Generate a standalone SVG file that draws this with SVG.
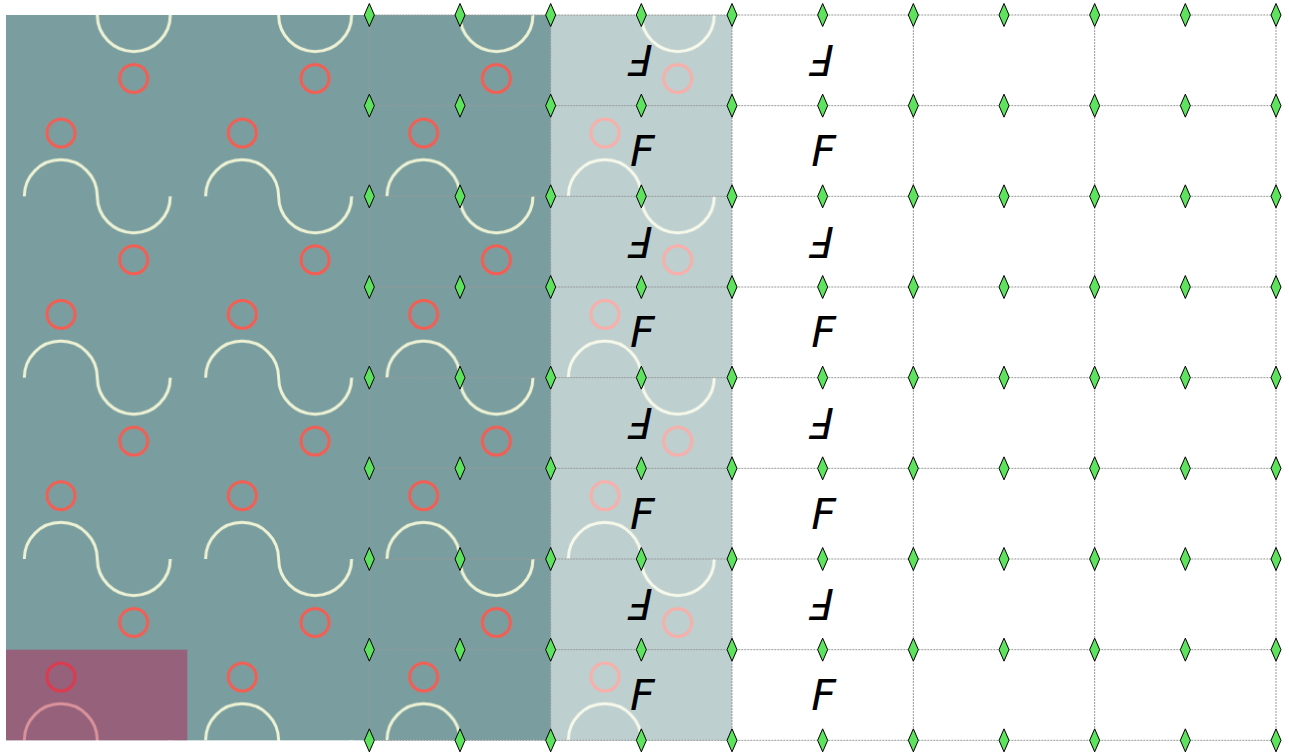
<svg xmlns="http://www.w3.org/2000/svg" width="1289" height="754" viewBox="0 0 1289 754">
<style>
.grid{fill:none;stroke:#999;stroke-width:1;stroke-dasharray:2 1}
.row{marker-start:url(#dia);marker-mid:url(#dia);marker-end:url(#dia)}
.f{font-family:"DejaVu Sans",sans-serif;font-style:oblique;font-size:43px;fill:#000}
</style>
<defs>
<pattern id="tile" patternUnits="userSpaceOnUse" x="6" y="15" width="181.333" height="181.333">
<rect width="181.333" height="181.333" fill="#7a9e9f"/>
<path d="M91.3,0 A36.5,36.5 0 0 0 164.3,0 M18.3,181.333 A36.5,36.5 0 0 1 91.3,181.333" fill="none" stroke="#eef2d4" stroke-width="3"/>
<circle cx="127.7" cy="63.5" r="14" fill="none" stroke="#f65c51" stroke-width="3"/>
<circle cx="55" cy="118" r="14" fill="none" stroke="#f65c51" stroke-width="3"/>
</pattern>
<marker id="dia" markerUnits="userSpaceOnUse" viewBox="-7 -13 14 26" markerWidth="14" markerHeight="26" refX="0" refY="0" orient="0" overflow="visible">
<path d="M0,-11.5 L5,0 L0,11.5 L-5,0 Z" fill="#5de35d" stroke="#000" stroke-width="1" stroke-dasharray="none"/>
</marker>
</defs>
<g id="background">
<rect x="6" y="15" width="726" height="725.333" fill="url(#tile)"/>
<rect x="550.667" y="15" width="181.333" height="725.333" fill="#fff" fill-opacity="0.5"/>
<rect x="6" y="649.667" width="181.333" height="90.667" fill="rgb(190,5,70)" fill-opacity="0.4"/>
</g>
<g id="letters">
<text class="f" x="630" y="166">F</text>
<text class="f" x="630" y="166" transform="rotate(180 641.333 105.667)">F</text>
<text class="f" x="630" y="347.333">F</text>
<text class="f" x="630" y="347.333" transform="rotate(180 641.333 287)">F</text>
<text class="f" x="630" y="528.667">F</text>
<text class="f" x="630" y="528.667" transform="rotate(180 641.333 468.333)">F</text>
<text class="f" x="630" y="710">F</text>
<text class="f" x="630" y="710" transform="rotate(180 641.333 649.667)">F</text>
<text class="f" x="811.333" y="166">F</text>
<text class="f" x="811.333" y="166" transform="rotate(180 822.667 105.667)">F</text>
<text class="f" x="811.333" y="347.333">F</text>
<text class="f" x="811.333" y="347.333" transform="rotate(180 822.667 287)">F</text>
<text class="f" x="811.333" y="528.667">F</text>
<text class="f" x="811.333" y="528.667" transform="rotate(180 822.667 468.333)">F</text>
<text class="f" x="811.333" y="710">F</text>
<text class="f" x="811.333" y="710" transform="rotate(180 822.667 649.667)">F</text>
</g>
<g id="connectors">
<path class="grid" d="M369.333,15 V740.333 M550.667,15 V740.333 M732,15 V740.333 M913.333,15 V740.333 M1094.667,15 V740.333 M1276,15 V740.333"/>
<path class="grid row" d="M369.333,15 L460,15 L550.667,15 L641.333,15 L732,15 L822.667,15 L913.333,15 L1004,15 L1094.667,15 L1185.333,15 L1276,15"/>
<path class="grid row" d="M369.333,105.667 L460,105.667 L550.667,105.667 L641.333,105.667 L732,105.667 L822.667,105.667 L913.333,105.667 L1004,105.667 L1094.667,105.667 L1185.333,105.667 L1276,105.667"/>
<path class="grid row" d="M369.333,196.333 L460,196.333 L550.667,196.333 L641.333,196.333 L732,196.333 L822.667,196.333 L913.333,196.333 L1004,196.333 L1094.667,196.333 L1185.333,196.333 L1276,196.333"/>
<path class="grid row" d="M369.333,287 L460,287 L550.667,287 L641.333,287 L732,287 L822.667,287 L913.333,287 L1004,287 L1094.667,287 L1185.333,287 L1276,287"/>
<path class="grid row" d="M369.333,377.667 L460,377.667 L550.667,377.667 L641.333,377.667 L732,377.667 L822.667,377.667 L913.333,377.667 L1004,377.667 L1094.667,377.667 L1185.333,377.667 L1276,377.667"/>
<path class="grid row" d="M369.333,468.333 L460,468.333 L550.667,468.333 L641.333,468.333 L732,468.333 L822.667,468.333 L913.333,468.333 L1004,468.333 L1094.667,468.333 L1185.333,468.333 L1276,468.333"/>
<path class="grid row" d="M369.333,559 L460,559 L550.667,559 L641.333,559 L732,559 L822.667,559 L913.333,559 L1004,559 L1094.667,559 L1185.333,559 L1276,559"/>
<path class="grid row" d="M369.333,649.667 L460,649.667 L550.667,649.667 L641.333,649.667 L732,649.667 L822.667,649.667 L913.333,649.667 L1004,649.667 L1094.667,649.667 L1185.333,649.667 L1276,649.667"/>
<path class="grid row" d="M369.333,740.333 L460,740.333 L550.667,740.333 L641.333,740.333 L732,740.333 L822.667,740.333 L913.333,740.333 L1004,740.333 L1094.667,740.333 L1185.333,740.333 L1276,740.333"/>
</g>
</svg>
